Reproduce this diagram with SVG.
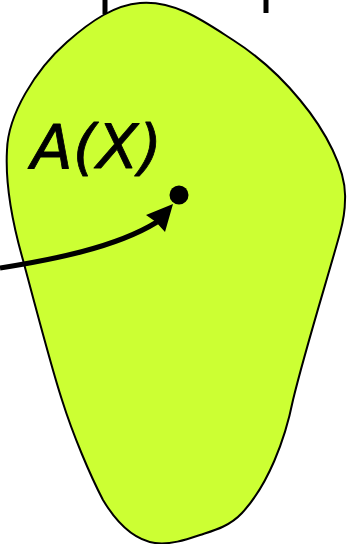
<svg xmlns="http://www.w3.org/2000/svg" width="347" height="544" viewBox="0 0 347 544">
<defs>
<style>
.blob{fill:#ccff33;stroke:#000;stroke-width:2}
.wire{stroke:#000;stroke-width:5;fill:none;stroke-linecap:butt}
.lbl{font-family:"DejaVu Sans",sans-serif;font-style:oblique;font-size:60px;fill:#000;stroke:#000;stroke-width:0.8;stroke-linejoin:round}
</style>
</defs>
<g id="stubs">
<line class="wire" x1="105" y1="0" x2="105" y2="14"/>
<line class="wire" x1="266" y1="0" x2="266" y2="13"/>
</g>
<g id="region">
<path class="blob" d="M140,3 C175,0 205,22 233,40 C258,56 282,78 300,100 C325,130 347,170 345,200 C345,212 343,222 340,233 C330,270 305,350 293,400 C285,440 268,485 242,513 C229,527 212,531 200,535 C185,540 170,545 155,543 C135,540 118,525 103,500 C90,475 73,435 62,400 C52,370 35,305 23,260 C13,225 5,185 7,150 C8,115 35,70 67,42 C92,20 115,5 140,3 Z"/>
<text class="lbl" x="31" y="168" textLength="131" lengthAdjust="spacingAndGlyphs">A(X)</text>
</g>
<g id="point">
<circle cx="179" cy="195" r="9.5" fill="#000"/>
</g>
<g id="connectors">
<path class="wire" d="M0,268 C50,260 115,248 157,222"/>
<polygon points="173,204 146,215 156,222 165,232" fill="#000"/>
</g>
</svg>
